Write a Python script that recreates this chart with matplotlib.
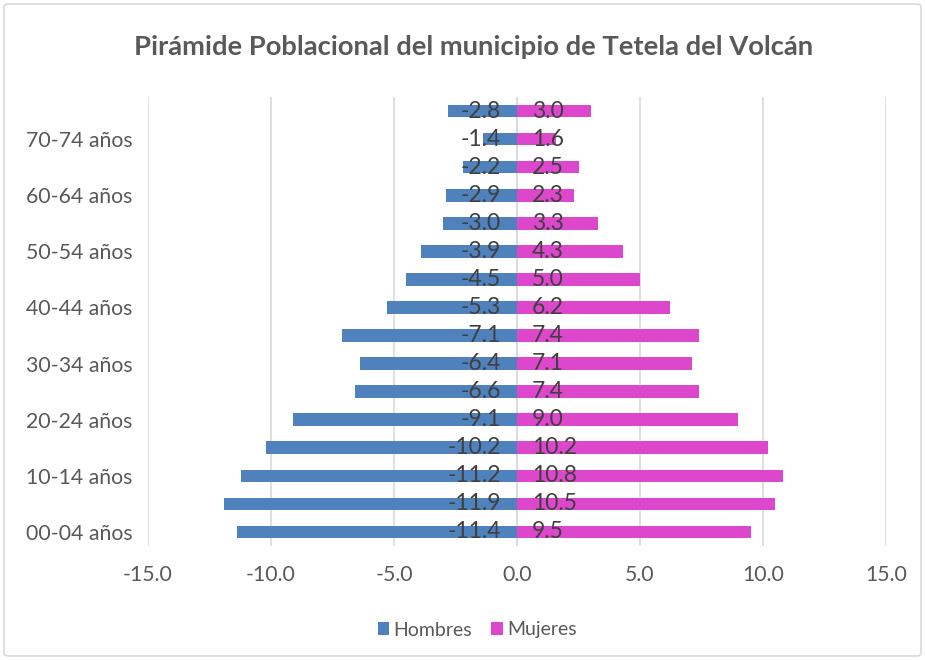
import matplotlib
matplotlib.use("Agg")
import matplotlib.pyplot as plt
from matplotlib.patches import FancyBboxPatch

categories = ["00-04 años", "05-09 años", "10-14 años", "15-19 años", "20-24 años",
              "25-29 años", "30-34 años", "35-39 años", "40-44 años", "45-49 años",
              "50-54 años", "55-59 años", "60-64 años", "65-69 años", "70-74 años",
              "75 y más años"]
hombres = [-11.4, -11.9, -11.2, -10.2, -9.1, -6.6, -6.4, -7.1, -5.3, -4.5,
           -3.9, -3.0, -2.9, -2.2, -1.4, -2.8]
mujeres = [9.5, 10.5, 10.8, 10.2, 9.0, 7.4, 7.1, 7.4, 6.2, 5.0,
           4.3, 3.3, 2.3, 2.5, 1.6, 3.0]
xticks = [-15, -10, -5, 0, 5, 10, 15]

plt.rcParams['font.family'] = ['Lato', 'DejaVu Sans']
txt = '#595959'

fig = plt.figure(figsize=(9.25, 6.6), dpi=100)
ax = fig.add_axes([148/925, 1-546/660, (886-148)/925, (546-97)/660])

y = list(range(len(categories)))
ax.barh(y, hombres, height=0.45, color='#4f81bd', label='Hombres', zorder=3)
ax.barh(y, mujeres, height=0.45, color='#dd47cc', label='Mujeres', zorder=3)

for yi, h, m in zip(y, hombres, mujeres):
    ax.text(-0.65, yi, f"{h:.1f}", ha='right', va='center', fontsize=16.5, color='#404040', zorder=4)
    ax.text(0.6, yi, f"{m:.1f}", ha='left', va='center', fontsize=16.5, color='#404040', zorder=4)

ax.set_xlim(-15, 15)
ax.set_ylim(-0.5, len(categories) - 0.5)
ax.set_xticks(xticks)
ax.set_xticklabels([f"{v:.1f}" for v in xticks])
ax.set_yticks(y[::2])
ax.set_yticklabels(categories[::2])
ax.tick_params(axis='both', length=0, labelsize=15.3, colors=txt)
ax.tick_params(axis='x', pad=14)
ax.tick_params(axis='y', pad=11)
ax.grid(axis='x', color='#d9d9d9', linewidth=1.2, zorder=0)
ax.axvline(0, color='#d9d9d9', linewidth=1.2, zorder=2)
for s in ax.spines.values():
    s.set_visible(False)

fig.text(474/925, 1-47/660, "Pirámide Poblacional del municipio de Tetela del Volcán",
         ha='center', va='center', fontsize=19.7, fontweight='bold', color=txt)

leg = fig.legend(loc='center', bbox_to_anchor=(477/925, 1-630/660), ncol=2, frameon=False,
                 fontsize=14, handlelength=0.6, handleheight=0.6, columnspacing=1.0,
                 handletextpad=0.2)
for t in leg.get_texts():
    t.set_color(txt)

border = FancyBboxPatch((4/925, 4/660), 917/925, 652/660, boxstyle="round,pad=0,rounding_size=0.005",
                        transform=fig.transFigure, fill=False, edgecolor='#d9d9d9', linewidth=1.2)
fig.patches.append(border)

fig.savefig("out.png", dpi=100, facecolor='white')
